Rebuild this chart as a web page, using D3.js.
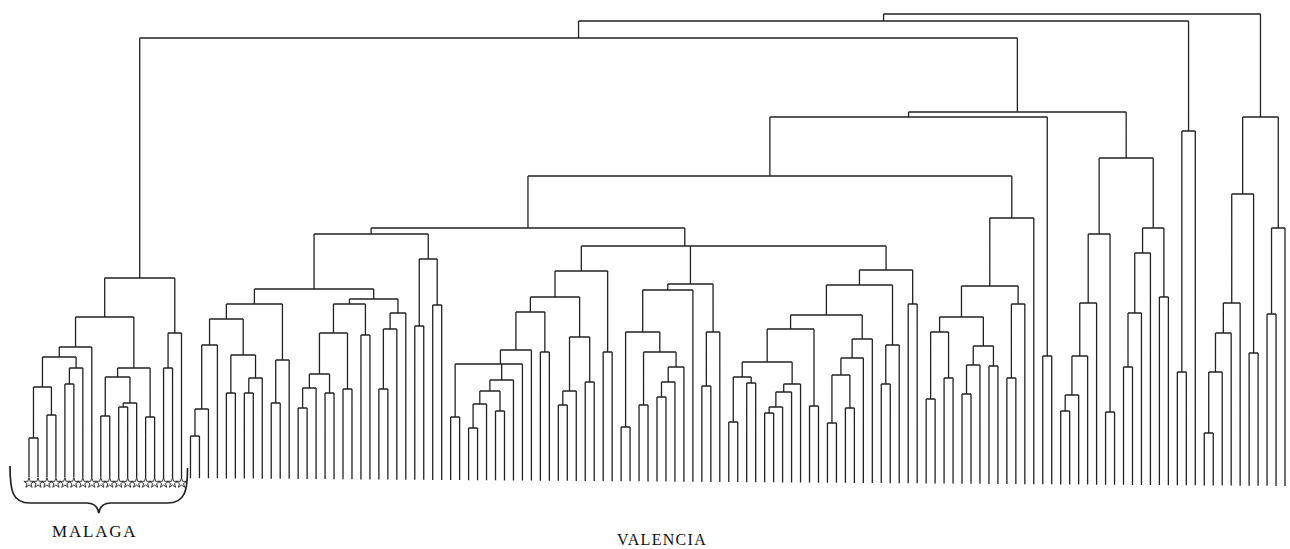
<!DOCTYPE html>
<html>
<head>
<meta charset="utf-8">
<script src="https://cdn.jsdelivr.net/npm/d3@7"></script>
<style>
    body { margin: 0; background: #fff; }
    svg { display: block; }
    .rama { fill: none; stroke: #222; stroke-width: 1.3; }
    .rotulo { font-family: "Liberation Serif", "DejaVu Serif", serif; fill: #111; }
</style>
</head>
<body>
<div id="tree-container"></div>
<script>
// Cada nodo: [nivel de fusion, hijo1, hijo2, ...]  -  0 = hoja
// Niveles (unidades arbitrarias, 0 = base)

const malaga = [212,
    [173,
        [143,
            [133,
                [103, [52, 0, 0], [75, 0, 0]],
                [122, [106, 0, 0], 0]],
            0],
        [122,
            [113, [74, 0, 0], [87, [83, 0, 0], 0]],
            [73, 0, 0]]],
    [157, [122, 0, 0], 0]];

// Valencia, de izquierda a derecha
const valenciaL = [186,
    [171,
        [145, [81, [54, 0, 0], 0], 0],
        [135, [97, 0, 0], [112, [97, 0, 0], 0]]],
    [130, [87, 0, 0], 0]];

const valenciaR = [191,
    [186,
        [157,
            [116, [102, [82, 0, 0], 0], [97, 0, 0]],
            [101, 0, 0]],
        [155, 0, 0]],
    [177, [161, [101, 0, 0], 0], 0]];

const valenciaN = [219,
    [193,
        [178,
            [140,
                [126,
                    [126, [73, 0, 0], [110, [99, [86, [62, 0, 0], 0], [79, 0, 0]], 0]],
                    0],
                0],
            [138, 0, 0]],
        [153, [99, [85, 0, 0], 0], [108, 0, 0]]],
    [138, 0, 0]];

const valenciaQ = [206,
    [200,
        [158, [63, 0, 0], [138, [85, 0, 0], [123, [108, [93, 0, 0], 0], 0]]],
        0],
    [158, [104, 0, 0], 0]];

const valenciaZ = [220,
    [205,
        [175,
            [161,
                [128,
                    [113, [68, 0, 0], [107, 0, 0]],
                    [106, [98, [83, [77, 0, 0], 0], 0], 0]],
                [84, 0, 0]],
            [151, [132, [115, [67, 0, 0], [82, 0, 0]], 0], 0]],
        [145, [106, 0, 0], 0]],
    [186, 0, 0]];

const valenciaM = [272,
    [204,
        [173,
            [158, [91, 0, 0], [112, 0, 0]],
            [144, [125, [96, 0, 0], 0], [124, 0, 0]]],
        [186, [112, 0, 0], 0]],
    0];

const valenciaP = [332,
    [256,
        [187, [134, [95, [79, 0, 0], 0], 0], 0],
        [78, 0, 0]],
    [262,
        [237, [177, [123, 0, 0], 0], 0],
        [193, 0, 0]]];

const valenciaS = [359, [118, 0, 0], 0];

const valenciaDer = [373,
    [296,
        [187, [157, [118, [57, 0, 0], 0], 0], 0],
        [137, 0, 0]],
    [262, [176, 0, 0], 0]];

// Uniones superiores
const grupoIzq = [256, [201, valenciaL, valenciaR], [231, [164, 0, 0], [185, 0, 0]]];
const grupoCentro = [244, valenciaN, [244, valenciaQ, valenciaZ]];
const grupo262 = [262, grupoIzq, grupoCentro];
const grupo314 = [314, grupo262, valenciaM];
const grupo373 = [373, grupo314, [134, 0, 0]];
const grupo378 = [378, grupo373, valenciaP];
const grupo452 = [452, malaga, grupo378];
const grupo469 = [469, grupo452, valenciaS];
const arbol = [476, grupo469, valenciaDer];

const etiquetas = ["MALAGA", "VALENCIA"];
const numMalaga = 18;

function dibujarDendrograma() {
    const width = 1290;
    const height = 549;

    const svg = d3.select("#tree-container").append("svg")
        .attr("width", width)
        .attr("height", height);

    const root = d3.hierarchy(arbol, d => Array.isArray(d) ? d.slice(1) : null);
    const hojas = root.leaves();

    const x = d3.scalePoint().domain(d3.range(hojas.length)).range([29, 1285]);
    const y = d3.scaleLinear().domain([0, 476]).range([490, 14]);
    // la base del papel baja un poco hacia la derecha
    const base = d3.scaleLinear().domain([29, 1285]).range([477, 486]);

    hojas.forEach((h, i) => { h.x = x(i); });
    root.eachAfter(d => {
        if (d.children) d.x = (d.children[0].x + d.children[d.children.length - 1].x) / 2;
    });

    const tope = d => d.children ? y(d.data[0]) : base(d.x);

    const path = d3.path();
    root.each(d => {
        if (!d.children) return;
        const yN = y(d.data[0]);
        const primero = d.children[0], ultimo = d.children[d.children.length - 1];
        path.moveTo(primero.x, yN);
        path.lineTo(ultimo.x, yN);
        d.children.forEach(c => {
            path.moveTo(c.x, yN);
            path.lineTo(c.x, tope(c));
        });
    });

    svg.append("path")
        .attr("class", "rama")
        .attr("d", path.toString());

    // Estrellas bajo las hojas de Malaga
    svg.selectAll(".estrella")
        .data(hojas.slice(0, numMalaga))
        .enter()
        .append("path")
        .attr("class", "estrella")
        .attr("transform", d => `translate(${d.x},483)`)
        .attr("d", d3.symbol(d3.symbolStar).size(32))
        .style("fill", "#fff")
        .style("stroke", "#222")
        .style("stroke-width", 0.9);

    // Llave bajo Malaga
    const xi = hojas[0].x - 19, xf = hojas[numMalaga - 1].x + 6;
    const xm = (xi + xf) / 2;
    const llave = d3.path();
    llave.moveTo(xi, 466);
    llave.bezierCurveTo(xi, 490, xi + 2, 503, xi + 20, 503);
    llave.lineTo(xm - 12, 503);
    llave.bezierCurveTo(xm - 4, 503, xm - 1, 507, xm, 513);
    llave.bezierCurveTo(xm + 1, 507, xm + 4, 503, xm + 12, 503);
    llave.lineTo(xf - 20, 503);
    llave.bezierCurveTo(xf - 2, 503, xf, 490, xf, 468);
    svg.append("path")
        .attr("d", llave.toString())
        .style("fill", "none")
        .style("stroke", "#222")
        .style("stroke-width", 1.7);

    svg.append("text")
        .attr("class", "rotulo")
        .attr("x", xm - 4)
        .attr("y", 537)
        .attr("text-anchor", "middle")
        .style("font-size", "17px")
        .style("letter-spacing", "1.8px")
        .text(etiquetas[0]);

    svg.append("text")
        .attr("class", "rotulo")
        .attr("x", 662)
        .attr("y", 545)
        .attr("text-anchor", "middle")
        .style("font-size", "16px")
        .style("letter-spacing", "1.3px")
        .text(etiquetas[1]);
}

dibujarDendrograma();
</script>
</body>
</html>
